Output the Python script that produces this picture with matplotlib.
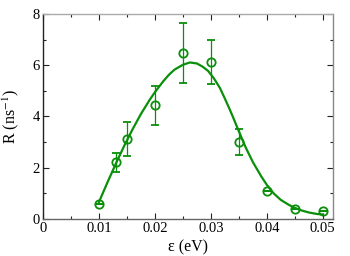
import matplotlib
matplotlib.use('Agg')
import matplotlib.pyplot as plt
from matplotlib.ticker import MultipleLocator, FuncFormatter

plt.rcParams['font.family'] = ['Liberation Serif', 'DejaVu Serif']
plt.rcParams['mathtext.fontset'] = 'stix'

# measured points
eps = [0.010, 0.013, 0.015, 0.020, 0.025, 0.030, 0.035, 0.040, 0.045, 0.050]
rate = [0.60, 2.21, 3.12, 4.44, 6.47, 6.12, 3.00, 1.08, 0.40, 0.32]
rate_err = [0.0, 0.38, 0.66, 0.77, 1.18, 0.86, 0.52, 0.0, 0.0, 0.0]

# fitted curve
fit_eps = [0.010, 0.0115, 0.013, 0.0145, 0.016, 0.0175, 0.019, 0.020, 0.0215,
           0.0225, 0.0235, 0.025, 0.02625, 0.0275, 0.0285, 0.0295, 0.0305,
           0.0316, 0.0325, 0.0334, 0.034, 0.035, 0.0362, 0.0375, 0.039,
           0.040, 0.0412, 0.0425, 0.044, 0.045, 0.0462, 0.0475, 0.049, 0.050]
fit_rate = [0.66, 1.42, 2.15, 2.85, 3.50, 4.10, 4.63, 4.95, 5.38,
            5.63, 5.83, 6.02, 6.11, 6.07, 5.95, 5.78, 5.50,
            5.12, 4.70, 4.26, 3.95, 3.42, 2.80, 2.22, 1.66,
            1.33, 1.00, 0.74, 0.54, 0.43, 0.33, 0.25, 0.19, 0.17]

green = '#0a8f0a'

fig = plt.figure(figsize=(3.5, 2.56), dpi=100)
ax = fig.add_axes([0.123, 0.145, 0.828, 0.80])

ax.plot(fit_eps, fit_rate, color=green, linewidth=1.6, zorder=2)
ax.errorbar(eps, rate, yerr=rate_err, fmt='o', mfc='none', mec=green,
            mew=1.3, ms=6, ecolor=green, elinewidth=0.9, capsize=3,
            capthick=0.9, zorder=3)

ax.set_xlim(0, 0.0518)
ax.set_ylim(0, 8)
ax.xaxis.set_major_locator(MultipleLocator(0.01))
ax.xaxis.set_minor_locator(MultipleLocator(0.005))
ax.yaxis.set_major_locator(MultipleLocator(2))
ax.yaxis.set_minor_locator(MultipleLocator(1))
ax.xaxis.set_major_formatter(FuncFormatter(lambda v, p: '0' if abs(v) < 1e-9 else '%.2f' % v))

ax.tick_params(which='both', direction='in', top=True, right=True, color='#222222')
ax.tick_params(which='major', length=4.5, width=0.8, labelsize=10.5, pad=2.5)
ax.tick_params(which='minor', length=2.3, width=0.8)

ax.spines['left'].set_color('#222222')
ax.spines['bottom'].set_color('#666666')
ax.spines['top'].set_color('#aaaaaa')
ax.spines['right'].set_color('#888888')
for s in ax.spines.values():
    s.set_linewidth(1.0)

ax.set_xlabel('ε (eV)', fontsize=11.5, labelpad=3)
ax.set_ylabel('R (ns$^{-1}$)', fontsize=11.5)
ax.yaxis.set_label_coords(-0.075, 0.5)

fig.savefig('out.png', dpi=100)
